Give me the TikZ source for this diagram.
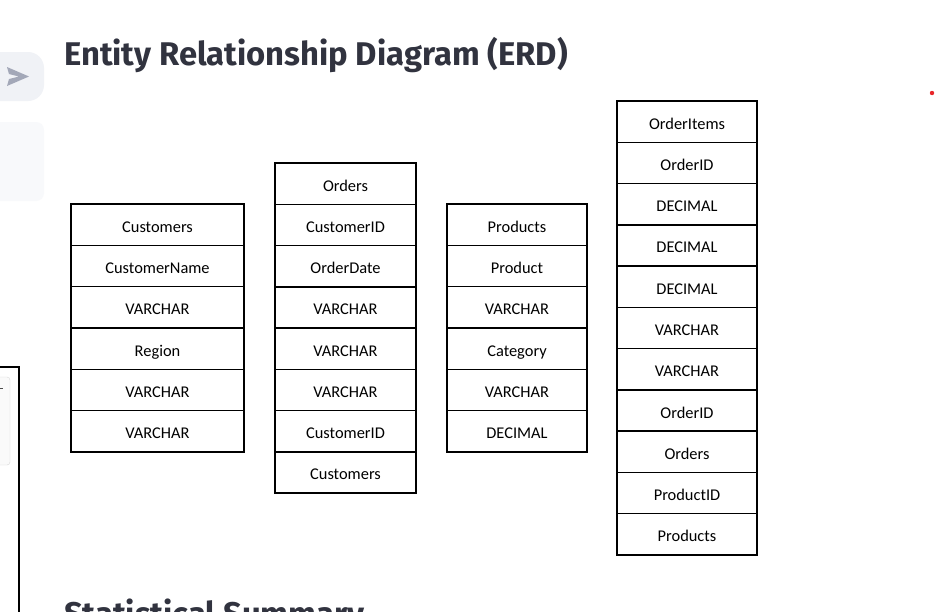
\documentclass[tikz,border=0pt]{standalone}
\usepackage{fontspec}
\setmainfont{Carlito}
\newfontfamily\titlefont{Fira Sans}
\definecolor{titlec}{HTML}{31333F}
\definecolor{sidegray}{HTML}{F0F2F6}
\definecolor{sidelight}{HTML}{F8F9FB}
\definecolor{icongray}{HTML}{A3A8B8}
\definecolor{dotred}{HTML}{E8262A}
\tikzset{
  cell/.style={draw=black, line width=1.5pt, rectangle, minimum height=41.3pt, inner sep=0pt, outer sep=0pt, text height=15pt, text depth=0pt, font=\fontsize{16.4}{19}\selectfont, anchor=north west},
  heading/.style={anchor=base west, inner sep=0pt, text=titlec, font=\titlefont\bfseries\fontsize{32.8}{38}\selectfont}
}
\begin{document}
\begin{tikzpicture}[x=1pt,y=-1pt]
\useasboundingbox (0,0) rectangle (936,611);
\clip (0,0) rectangle (936,611);
\fill[white] (0,0) rectangle (936,611);
% sidebar pieces
\fill[sidegray, rounded corners=16pt] (-30,52) rectangle (44,101);
\fill[icongray] (7,67) -- (29,76.5) -- (7,86) -- (9,79) -- (19,76.5) -- (9,74) -- cycle;
\fill[sidelight, rounded corners=8pt] (-30,122) rectangle (44,201);
\draw[black, line width=1.5pt] (-30,367) -- (19,367) -- (19,640);
\draw[black!15, fill=black!2, rounded corners=3pt] (-30,377) rectangle (10,465);
\fill[black!70] (0,387.5) rectangle (3,389);
\fill[dotred] (932,93) circle (2.2);
% title
\node[heading] (title) at (64,65) {Entity Relationship Diagram (ERD)};
\node[heading] (stats) at (64,625) {Statistical Summary};
% Customers
\foreach \t [count=\i from 0] in {Customers,CustomerName,VARCHAR,Region,VARCHAR,VARCHAR}
  \node[cell, minimum width=173pt] (cust\i) at (71,{204+41.33*\i}) {\t};
% Orders
\foreach \t [count=\i from 0] in {Orders,CustomerID,OrderDate,VARCHAR,VARCHAR,VARCHAR,CustomerID,Customers}
  \node[cell, minimum width=141pt] (ord\i) at (275,{163+41.25*\i}) {\t};
% Products
\foreach \t [count=\i from 0] in {Products,Product,VARCHAR,Category,VARCHAR,DECIMAL}
  \node[cell, minimum width=140pt] (prod\i) at (447,{204+41.33*\i}) {\t};
% OrderItems
\foreach \t [count=\i from 0] in {OrderItems,OrderID,DECIMAL,DECIMAL,DECIMAL,VARCHAR,VARCHAR,OrderID,Orders,ProductID,Products}
  \node[cell, minimum width=140pt] (item\i) at (617,{101+41.27*\i}) {\t};
\end{tikzpicture}
\end{document}
